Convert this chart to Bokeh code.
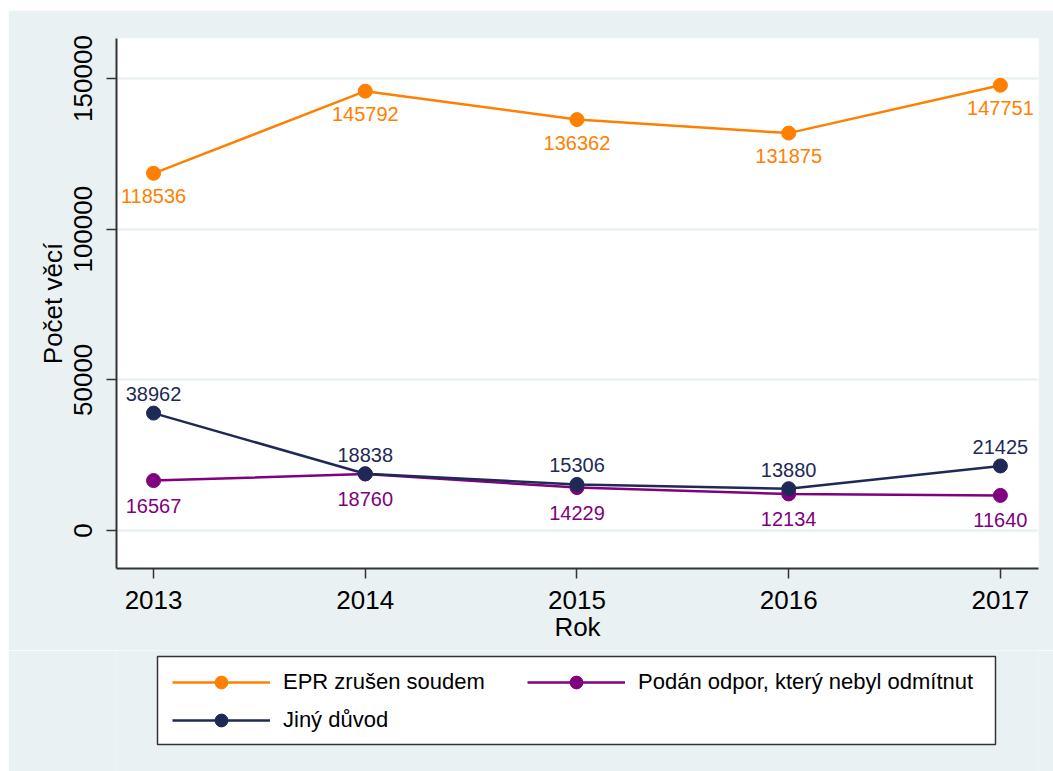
from bokeh.plotting import figure
from bokeh.layouts import column
from bokeh.models import ColumnDataSource, Legend, LegendItem, Range1d, FixedTicker, BasicTickFormatter
from bokeh.core.properties import value
from bokeh.embed import file_html
from bokeh.resources import INLINE

years = [2013, 2014, 2015, 2016, 2017]
epr_zrusen = [118536, 145792, 136362, 131875, 147751]
podan_odpor = [16567, 18760, 14229, 12134, 11640]
jiny_duvod = [38962, 18838, 15306, 13880, 21425]
y_ticks = [0, 50000, 100000, 150000]

series = [
    ("EPR zrušen soudem", epr_zrusen, "#FF8000", 23),
    ("Podán odpor, který nebyl odmítnut", podan_odpor, "#800080", 25),
    ("Jiný důvod", jiny_duvod, "#1E2A55", -19),
]

FONT = "Liberation Sans"
BG = "#EAF1F3"
W = 1045
FL, FR = 108, 1030  # frame edges (px) shared by both stacked figures

p = figure(width=W, height=640, output_backend="svg", toolbar_location=None,
           x_range=Range1d(2012.825, 2017.18), y_range=Range1d(-12611, 163274),
           min_border_left=FL, min_border_right=W - FR, min_border_top=28, min_border_bottom=82)
p.background_fill_color = "white"
p.border_fill_color = BG
p.outline_line_color = None

for name, vals, color, off in series:
    src = ColumnDataSource(dict(x=years, y=vals, t=[str(v) for v in vals]))
    p.line("x", "y", source=src, line_color=color, line_width=2.5)
    p.scatter("x", "y", source=src, size=14, fill_color=color, line_color=color)
    p.text("x", "y", text="t", source=src, text_color=color, text_align="center",
           text_baseline="middle", y_offset=off, text_font=value(FONT), text_font_size="20px")

for ax in (p.xaxis[0], p.yaxis[0]):
    ax.axis_line_color = "#333333"
    ax.axis_line_width = 2
    ax.major_tick_line_color = "#333333"
    ax.major_tick_line_width = 1.5
    ax.major_tick_out = 10
    ax.major_tick_in = 0
    ax.minor_tick_line_color = None
    ax.major_label_text_font = FONT
    ax.major_label_text_font_size = "26px"
    ax.major_label_text_color = "#000000"
    ax.axis_label_text_font = FONT
    ax.axis_label_text_font_size = "26px"
    ax.axis_label_text_font_style = "normal"
    ax.axis_label_text_color = "#000000"

p.xaxis.ticker = FixedTicker(ticks=years)
p.xaxis.axis_label = "Rok"
p.xaxis.major_label_standoff = 12
p.xaxis.axis_label_standoff = 0
p.yaxis.ticker = FixedTicker(ticks=y_ticks)
p.yaxis.formatter = BasicTickFormatter(use_scientific=False)
p.yaxis.major_label_orientation = "vertical"
p.yaxis.axis_label = "Počet věcí"
p.yaxis.major_label_standoff = 14
p.yaxis.axis_label_standoff = 4

p.xgrid.grid_line_color = None
p.ygrid.grid_line_color = BG
p.ygrid.grid_line_width = 2.5

# legend panel (series drawn with the real data, which lies outside this panel's view)
LH = 121
pl = figure(width=W, height=LH, output_backend="svg", toolbar_location=None,
            x_range=Range1d(FL, FR), y_range=Range1d(0, LH),
            min_border_left=FL, min_border_right=W - FR, min_border_top=0, min_border_bottom=0,
            x_axis_type=None, y_axis_type=None)
pl.background_fill_color = BG
pl.border_fill_color = BG
pl.outline_line_color = None
pl.grid.visible = False
pl.quad(left=[149], right=[987], top=[115], bottom=[27], fill_color="white",
        line_color="#333333", line_width=1.5)

leg = {}
for name, vals, color, off in series:
    lr = pl.line(x=years, y=vals, line_color=color, line_width=2.5)
    sr = pl.scatter(x=years, y=vals, size=14, fill_color=color, line_color=color)
    leg[name] = LegendItem(label=name, renderers=[lr, sr])


def make_legend(item_names, loc):
    lg = Legend(items=[leg[n] for n in item_names], location=loc)
    lg.label_text_font = FONT
    lg.label_text_font_size = "22px"
    lg.label_text_color = "#000000"
    lg.glyph_width = 98
    lg.glyph_height = 32
    lg.label_height = 32
    lg.label_standoff = 13
    lg.padding = 0
    lg.spacing = 6
    lg.margin = 0
    lg.border_line_color = None
    lg.background_fill_alpha = 0
    return lg


pl.add_layout(make_legend(["EPR zrušen soudem", "Jiný důvod"], (56, 35)), "center")
pl.add_layout(make_legend(["Podán odpor, který nebyl odmítnut"], (411, 73)), "center")

layout = column(p, pl, spacing=0)
layout.margin = (10, 0, 0, 8)

open("out.html", "w").write(file_html(layout, INLINE))
